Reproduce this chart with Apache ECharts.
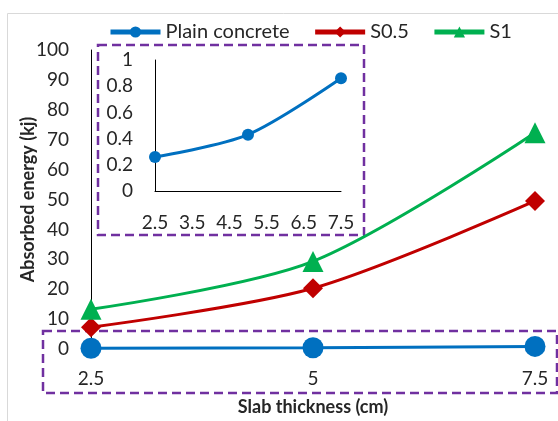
<!DOCTYPE html>
<html>
<head>
<meta charset="utf-8">
<script src="https://cdn.jsdelivr.net/npm/echarts@6/dist/echarts.min.js"></script>
<style>
html,body{margin:0;padding:0;background:#fff;}
#chart{width:558px;height:421px;}
</style>
</head>
<body>
<div id="chart"></div>
<script>
// Data
const thickness = [2.5, 5, 7.5];               // Slab thickness (cm)
const plainConcrete = [0.26, 0.43, 0.86];      // Absorbed energy (kj)
const s05 = [7.3, 20.3, 49.5];
const s1 = [13.3, 29.3, 72.3];
const mainXTicks = [2.5, 5, 7.5];
const insetXTicks = [2.5, 3.5, 4.5, 5.5, 6.5, 7.5];
const seriesNames = ['Plain concrete', 'S0.5', 'S1'];

const FONT = 'Lato';
const TXT = '#262626';
const BLUE = '#0070C0', RED = '#C00000', GREEN = '#00B050', PURPLE = '#7030A0';

function pairs(xs, ys) { return xs.map((x, i) => [x, ys[i]]); }

const chart = echarts.init(document.getElementById('chart'), null, {renderer: 'canvas'});
chart.setOption({
  animation: false,
  textStyle: {fontFamily: FONT, color: TXT},
  legend: {
    data: seriesNames,
    left: 103, top: 17,
    itemWidth: 50, itemHeight: 14, itemGap: 23,
    lineStyle: {width: 5},
    textStyle: {fontFamily: FONT, fontSize: 20, color: TXT}
  },
  grid: [
    {left: 91, right: 23, top: 50, bottom: 71},
    {left: 155, width: 186, top: 60, height: 131}
  ],
  xAxis: [
    {
      type: 'value', gridIndex: 0, min: 2.5, max: 7.5, interval: 2.5,
      axisLine: {show: false}, axisTick: {show: false}, splitLine: {show: false},
      axisLabel: {customValues: mainXTicks, margin: 20, fontSize: 19, color: TXT, fontFamily: FONT},
      name: 'Slab thickness (cm)', nameLocation: 'middle', nameGap: 49, nameMoveOverlap: false,
      nameTextStyle: {fontFamily: FONT, fontSize: 18, fontWeight: 'bold', color: TXT}
    },
    {
      type: 'value', gridIndex: 1, min: 2.5, max: 7.5,
      axisLine: {show: true, lineStyle: {color: '#000', width: 1}},
      axisTick: {show: false}, splitLine: {show: false},
      axisLabel: {customValues: insetXTicks, margin: 22, fontSize: 19, color: TXT, fontFamily: FONT}
    }
  ],
  yAxis: [
    {
      type: 'value', gridIndex: 0, min: 0, max: 100, interval: 10,
      axisLine: {show: true, lineStyle: {color: '#000', width: 1}},
      axisTick: {show: false}, splitLine: {show: false},
      axisLabel: {margin: 22, fontSize: 19, color: TXT, fontFamily: FONT},
      name: 'Absorbed energy (kj)', nameLocation: 'middle', nameGap: 54, nameMoveOverlap: false,
      nameTextStyle: {fontFamily: FONT, fontSize: 18, fontWeight: 'bold', color: TXT}
    },
    {
      type: 'value', gridIndex: 1, min: 0, max: 1, interval: 0.2,
      axisLine: {show: true, lineStyle: {color: '#000', width: 1}},
      axisTick: {show: false}, splitLine: {show: false},
      axisLabel: {margin: 22, fontSize: 19, color: TXT, fontFamily: FONT}
    }
  ],
  graphic: [
    {type: 'rect', shape: {x: 7.5, y: 13.5, width: 700, height: 600}, style: {fill: 'none', stroke: '#d9d9d9', lineWidth: 1}, z: -10},
    {type: 'rect', shape: {x: 98, y: 45, width: 266, height: 190}, style: {fill: 'none', stroke: PURPLE, lineWidth: 2.5, lineDash: [9, 5]}, z: 0},
    {type: 'rect', shape: {x: 43, y: 331, width: 514, height: 62}, style: {fill: 'none', stroke: PURPLE, lineWidth: 2.5, lineDash: [9, 5]}, z: 0}
  ],
  series: [
    {
      name: 'Plain concrete', type: 'line', xAxisIndex: 0, yAxisIndex: 0,
      data: pairs(thickness, plainConcrete), smooth: 0.3,
      symbol: 'circle', symbolSize: 21,
      lineStyle: {color: BLUE, width: 3}, itemStyle: {color: BLUE}, z: 3
    },
    {
      name: 'S0.5', type: 'line', xAxisIndex: 0, yAxisIndex: 0,
      data: pairs(thickness, s05), smooth: 0.3,
      symbol: 'diamond', symbolSize: 20,
      lineStyle: {color: RED, width: 3}, itemStyle: {color: RED}, z: 4
    },
    {
      name: 'S1', type: 'line', xAxisIndex: 0, yAxisIndex: 0,
      data: pairs(thickness, s1), smooth: 0.3,
      symbol: 'triangle', symbolSize: 21,
      lineStyle: {color: GREEN, width: 3}, itemStyle: {color: GREEN}, z: 5
    },
    {
      name: 'Plain concrete', type: 'line', xAxisIndex: 1, yAxisIndex: 1,
      data: pairs(thickness, plainConcrete), smooth: 0.3,
      symbol: 'circle', symbolSize: 12,
      lineStyle: {color: BLUE, width: 3}, itemStyle: {color: BLUE}, z: 3
    }
  ]
});
</script>
</body>
</html>
